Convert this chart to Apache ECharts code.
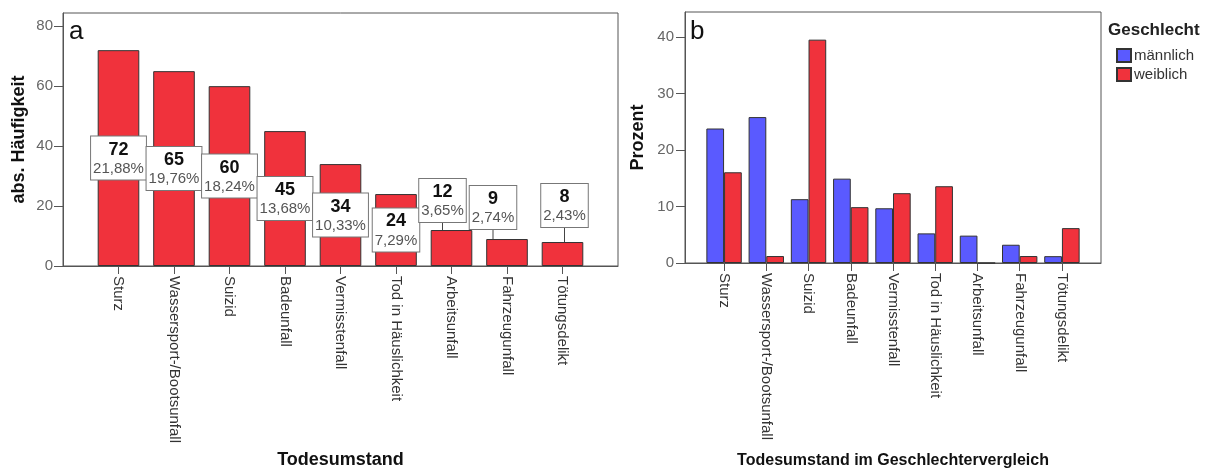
<!DOCTYPE html>
<html>
<head>
<meta charset="utf-8">
<script src="https://cdn.jsdelivr.net/npm/echarts@6/dist/echarts.min.js"></script>
<style>
html,body{margin:0;padding:0;background:#fff;}
#c{width:1211px;height:474px;}
</style>
</head>
<body>
<div id="c"></div>
<script>
// ---- data ----
const categories = ['Sturz','Wassersport-/Bootsunfall','Suizid','Badeunfall','Vermisstenfall','Tod in Häuslichkeit','Arbeitsunfall','Fahrzeugunfall','Tötungsdelikt'];
const counts = [72, 65, 60, 45, 34, 24, 12, 9, 8];
const percentLabels = ['21,88%','19,76%','18,24%','13,68%','10,33%','7,29%','3,65%','2,74%','2,43%'];
const maleSeriesName = 'männlich';
const femaleSeriesName = 'weiblich';
const malePercent = [23.79, 25.81, 11.29, 14.92, 9.68, 5.24, 4.84, 3.23, 1.21];
const femalePercent = [16.05, 1.23, 39.51, 9.88, 12.35, 13.58, 0, 1.23, 6.17];
const yTicksA = [0, 20, 40, 60, 80];
const yTicksB = [0, 10, 20, 30, 40];

// ---- chart ----
const FF = '"Liberation Sans", Arial, sans-serif';
const RED = '#f0323c';
const BLUE = '#5a5aff';
const EDGE = '#333333';
const FRAME = '#555555';
const catIdx = categories.map((c, i) => i);

// label placements for small bars (style only)
const smallLabelStyle = {
  6: { position: 'top', distance: 8 },
  7: { position: 'top', distance: 10 },
  8: { position: 'top', distance: 15 }
};
const smallLabelShift = { 6: -9, 7: -14, 8: 2 };

const chart = echarts.init(document.getElementById('c'), null, { renderer: 'canvas' });

function xAxisCfg(gridIndex, min, max, name, nameGap, nameSize) {
  return {
    type: 'value', gridIndex, min, max,
    name, nameLocation: 'middle', nameGap,
    nameTextStyle: { fontFamily: FF, fontSize: nameSize, fontWeight: 'bold', color: '#111' },
    splitLine: { show: false },
    axisLine: { show: true, onZero: false, lineStyle: { color: FRAME, width: 1 } },
    axisTick: { show: true, length: 8, customValues: catIdx, lineStyle: { color: FRAME } },
    axisLabel: {
      customValues: catIdx, rotate: -90, margin: 10,
      fontFamily: FF, fontSize: 15, color: '#333',
      formatter: v => categories[v] || ''
    }
  };
}
function yAxisCfg(gridIndex, max, ticks, name, nameGap, margin) {
  return {
    type: 'value', gridIndex, min: 0, max,
    name, nameLocation: 'middle', nameGap,
    nameTextStyle: { fontFamily: FF, fontSize: 18, fontWeight: 'bold', color: '#111' },
    splitLine: { show: false },
    axisLine: { show: true, onZero: false, lineStyle: { color: FRAME, width: 1 } },
    axisTick: { show: true, length: 9, customValues: ticks, lineStyle: { color: FRAME } },
    axisLabel: { customValues: ticks, margin, fontFamily: FF, fontSize: 15, color: '#666' }
  };
}

const option = {
  backgroundColor: '#ffffff',
  animation: false,
  title: [
    { text: 'a', left: 69, top: 19, padding: 0, textStyle: { fontFamily: FF, fontSize: 26, fontWeight: 'normal', color: '#111' } },
    { text: 'b', left: 690, top: 19, padding: 0, textStyle: { fontFamily: FF, fontSize: 26, fontWeight: 'normal', color: '#111' } },
    { text: 'Geschlecht', left: 1108, top: 22, padding: 0, textStyle: { fontFamily: FF, fontSize: 17, fontWeight: 'bold', color: '#222' } }
  ],
  legend: {
    data: [maleSeriesName, femaleSeriesName],
    orient: 'vertical', left: 1116, top: 48, padding: 0,
    itemWidth: 14, itemHeight: 13, itemGap: 4,
    icon: 'rect',
    textStyle: { fontFamily: FF, fontSize: 15, color: '#333', padding: [0, 0, 0, -2] },
    selectedMode: false
  },
  grid: [
    { left: 63, top: 13, width: 555, height: 253, show: true, borderColor: FRAME, borderWidth: 1, backgroundColor: '#fff' },
    { left: 685, top: 12, width: 416, height: 255, show: true, borderColor: FRAME, borderWidth: 1, backgroundColor: '#fff' }
  ],
  xAxis: [
    xAxisCfg(0, -1, 9, 'Todesumstand', 178, 18),
    xAxisCfg(1, -0.925, 8.925, 'Todesumstand im Geschlechtervergleich', 190, 16)
  ],
  yAxis: [
    yAxisCfg(0, 84.4, yTicksA, 'abs. Häufigkeit', 35, 10),
    yAxisCfg(1, 44.4, yTicksB, 'Prozent', 38, 11)
  ],
  series: [
    {
      type: 'bar', xAxisIndex: 0, yAxisIndex: 0,
      barWidth: 41.6,
      itemStyle: { color: RED, borderColor: EDGE, borderWidth: 1 },
      label: {
        show: true, position: 'inside',
        backgroundColor: '#fff', borderColor: '#777', borderWidth: 1,
        padding: [3, 2, 2, 2],
        formatter: p => '{n|' + counts[p.dataIndex] + '}\n{p|' + percentLabels[p.dataIndex] + '}',
        rich: {
          n: { fontFamily: FF, fontSize: 18, fontWeight: 'bold', color: '#111', lineHeight: 20, align: 'center' },
          p: { fontFamily: FF, fontSize: 15, color: '#555', lineHeight: 18, align: 'center' }
        }
      },
      labelLayout: p => ({ dx: smallLabelShift[p.dataIndex] || 0 }),
      data: counts.map((v, i) => {
        const item = { value: [i, v] };
        if (smallLabelStyle[i]) {
          item.label = smallLabelStyle[i];
          item.labelLine = { show: true, lineStyle: { color: '#444', width: 1 } };
        }
        return item;
      })
    },
    {
      name: maleSeriesName, type: 'bar', xAxisIndex: 1, yAxisIndex: 1,
      barWidth: 17.7, barGap: '0%',
      itemStyle: { color: BLUE, borderColor: EDGE, borderWidth: 1 },
      data: malePercent.map((v, i) => [i, v])
    },
    {
      name: femaleSeriesName, type: 'bar', xAxisIndex: 1, yAxisIndex: 1,
      barWidth: 17.7, barGap: '0%',
      itemStyle: { color: RED, borderColor: EDGE, borderWidth: 1 },
      data: femalePercent.map((v, i) => [i, v])
    }
  ]
};
chart.setOption(option);
</script>
</body>
</html>
